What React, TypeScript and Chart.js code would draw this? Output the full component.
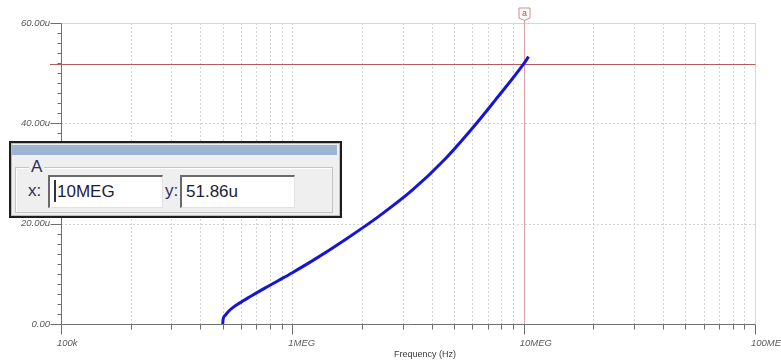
import React, { useEffect, useRef } from 'react';
import { Chart, registerables } from 'chart.js';
Chart.register(...registerables);

// ---- data ----
const freqHz = [500e3, 502.4e3, 512.8e3, 528.4e3, 551e3, 591e3, 653e3, 757e3, 879e3, 1.0e6, 1.224e6, 1.704e6, 2.372e6, 3.299e6, 4.598e6, 6.194e6, 7.551e6, 10e6, 10.5e6];
const currentU = [0, 1.0, 1.73, 2.45, 3.2, 4.16, 5.38, 7.1, 8.77, 10.23, 12.63, 16.91, 21.51, 26.67, 33.0, 39.77, 44.67, 51.86, 53.3];
const xMajorTicks = [1e5, 1e6, 1e7, 1e8];
const xTickLabels = ['100k', '1MEG', '10MEG', '100MEG'];
const xMinorMultipliers = [2, 3, 4, 5, 6, 7, 8, 9];
const yMajorTicks = [0, 20, 40, 60];
const yTickLabels = ['0.00', '20.00u', '40.00u', '60.00u'];
const yMinorStep = 2;
const cursorX = 10e6;
const cursorY = 51.86;
const cursorName = 'A';
const cursorXText = '10MEG';
const cursorYText = '51.86u';
const markerLabel = 'a';
const xTitle = 'Frequency (Hz)';

const FONT = '"Liberation Sans", Arial, sans-serif';

const decorPlugin = {
  id: 'decor',
  beforeDatasetsDraw(chart: any) {
    const { ctx, chartArea: a, scales } = chart;
    const xs = scales.x, ys = scales.y;
    const px = (v: number) => Math.round(xs.getPixelForValue(v)) + 0.5;
    const py = (v: number) => Math.round(ys.getPixelForValue(v)) + 0.5;
    ctx.save();
    ctx.lineWidth = 1;
    // vertical dotted grid
    ctx.strokeStyle = '#d2d2d2';
    ctx.setLineDash([2, 2]);
    const xGrid: number[] = [];
    for (let d = 0; d < xMajorTicks.length - 1; d++) {
      if (d > 0) xGrid.push(xMajorTicks[d]);
      xMinorMultipliers.forEach((m) => xGrid.push(xMajorTicks[d] * m));
    }
    xGrid.forEach((v) => {
      const x = px(v);
      ctx.beginPath(); ctx.moveTo(x, a.top); ctx.lineTo(x, a.bottom); ctx.stroke();
    });
    // horizontal dotted grid
    yMajorTicks.slice(1, -1).forEach((v) => {
      const y = py(v);
      ctx.beginPath(); ctx.moveTo(a.left, y); ctx.lineTo(a.right, y); ctx.stroke();
    });
    ctx.setLineDash([]);
    // top & right border
    ctx.strokeStyle = '#d6d6d6';
    ctx.beginPath();
    ctx.moveTo(a.left, py(yMajorTicks[yMajorTicks.length - 1]));
    ctx.lineTo(px(xMajorTicks[xMajorTicks.length - 1]), py(yMajorTicks[yMajorTicks.length - 1]));
    ctx.lineTo(px(xMajorTicks[xMajorTicks.length - 1]), a.bottom);
    ctx.stroke();
    // cursor lines
    const cx = px(cursorX), cy = py(cursorY);
    ctx.strokeStyle = '#d9a3a3';
    ctx.beginPath(); ctx.moveTo(cx, a.top - 3); ctx.lineTo(cx, a.bottom); ctx.stroke();
    ctx.strokeStyle = '#7fdcdc';
    ctx.beginPath(); ctx.moveTo(cx, a.bottom); ctx.lineTo(cx, a.bottom + 9); ctx.stroke();
    ctx.strokeStyle = '#b65c5c';
    ctx.beginPath(); ctx.moveTo(a.left - 11, cy); ctx.lineTo(px(xMajorTicks[xMajorTicks.length - 1]), cy); ctx.stroke();
    // axes
    ctx.strokeStyle = '#6f6f6f';
    const ax = px(xMajorTicks[0]);
    const ay = py(yMajorTicks[0]);
    ctx.beginPath();
    ctx.moveTo(ax, py(yMajorTicks[yMajorTicks.length - 1]));
    ctx.lineTo(ax, ay);
    ctx.lineTo(px(xMajorTicks[xMajorTicks.length - 1]), ay);
    ctx.stroke();
    // x ticks
    ctx.beginPath();
    xMajorTicks.forEach((v) => { const x = px(v); ctx.moveTo(x, ay); ctx.lineTo(x, ay + 10); });
    xGrid.forEach((v) => { if (xMajorTicks.indexOf(v) < 0) { const x = px(v); ctx.moveTo(x, ay); ctx.lineTo(x, ay + 5); } });
    ctx.stroke();
    // y ticks
    ctx.beginPath();
    const yMax = yMajorTicks[yMajorTicks.length - 1];
    for (let v = yMajorTicks[0]; v <= yMax; v += yMinorStep) {
      const y = py(v);
      const major = yMajorTicks.indexOf(v) >= 0;
      ctx.moveTo(ax - (major ? 11 : 4), y); ctx.lineTo(ax, y);
    }
    ctx.stroke();
    ctx.restore();
  },
  afterDraw(chart: any) {
    const { ctx, chartArea: a, scales } = chart;
    const cx = Math.round(scales.x.getPixelForValue(cursorX)) + 0.5;
    ctx.save();
    // marker tag
    const top = a.top - 15, bot = a.top - 5;
    ctx.beginPath();
    ctx.moveTo(cx - 5.5, top);
    ctx.lineTo(cx + 5.5, top);
    ctx.lineTo(cx + 5.5, bot);
    ctx.lineTo(cx, bot + 2.5);
    ctx.lineTo(cx - 5.5, bot);
    ctx.closePath();
    ctx.fillStyle = '#ffffff';
    ctx.fill();
    ctx.strokeStyle = '#d48a8a';
    ctx.lineWidth = 1;
    ctx.stroke();
    ctx.fillStyle = '#c04848';
    ctx.font = `9px ${FONT}`;
    ctx.textAlign = 'center';
    ctx.textBaseline = 'middle';
    ctx.fillText(markerLabel, cx, top + 5.5);
    // axis title
    ctx.fillStyle = '#3a3a3a';
    ctx.font = `9px ${FONT}`;
    ctx.fillText(xTitle, (a.left + a.right) / 2 + 17, a.bottom + 31);
    ctx.restore();
  },
};

const inputStyle: React.CSSProperties = {
  position: 'absolute',
  top: 175,
  height: 33,
  background: '#ffffff',
  borderTop: '2px solid #6a6a6a',
  borderLeft: '2px solid #6a6a6a',
  borderBottom: '1px solid #e2e2e2',
  borderRight: '1px solid #e2e2e2',
  boxSizing: 'border-box',
  font: `17px ${FONT}`,
  color: '#1c1c3a',
  lineHeight: '30px',
  paddingLeft: 4,
  whiteSpace: 'nowrap',
};

const labelStyle: React.CSSProperties = {
  position: 'absolute',
  font: `17px ${FONT}`,
  color: '#2e2e5e',
  lineHeight: '20px',
};

export default function App() {
  const ref = useRef<HTMLCanvasElement | null>(null);
  useEffect(() => {
    document.body.style.margin = '0';
    const canvas = ref.current;
    if (!canvas) return;
    const tickFont = { family: FONT, size: 9.5, style: 'italic' as const };
    const chart = new Chart(canvas, {
      type: 'line',
      data: {
        datasets: [
          {
            data: freqHz.map((f, i) => ({ x: f, y: currentU[i] })),
            borderColor: '#1616d2',
            borderWidth: 3,
            pointRadius: 0,
            cubicInterpolationMode: 'monotone',
            fill: false,
          },
        ],
      },
      options: {
        animation: false,
        responsive: false,
        devicePixelRatio: 1,
        layout: { padding: { top: 23, right: 26, left: 0, bottom: 0 } },
        plugins: { legend: { display: false }, tooltip: { enabled: false }, title: { display: false } },
        scales: {
          x: {
            type: 'logarithmic',
            min: xMajorTicks[0],
            max: xMajorTicks[xMajorTicks.length - 1],
            afterBuildTicks: (s: any) => { s.ticks = xMajorTicks.map((v) => ({ value: v })); },
            afterFit: (s: any) => { s.height = 40; s.paddingLeft = 0; s.paddingRight = 0; },
            ticks: {
              autoSkip: false,
              maxRotation: 0,
              align: 'start',
              labelOffset: -4,
              padding: 4,
              color: '#5a5a5a',
              font: tickFont,
              callback: (_v: any, i: number) => xTickLabels[i],
            },
            grid: { display: false, drawTicks: true, tickLength: 10 },
            border: { display: false },
          },
          y: {
            type: 'linear',
            min: yMajorTicks[0],
            max: yMajorTicks[yMajorTicks.length - 1],
            afterBuildTicks: (s: any) => { s.ticks = yMajorTicks.map((v) => ({ value: v })); },
            afterFit: (s: any) => { s.width = 61; s.paddingTop = 0; s.paddingBottom = 0; },
            ticks: {
              padding: 3,
              color: '#5a5a5a',
              font: tickFont,
              callback: (_v: any, i: number) => yTickLabels[i],
            },
            grid: { display: false, drawTicks: true, tickLength: 8 },
            border: { display: false },
          },
        },
      } as any,
      plugins: [decorPlugin],
    });
    return () => chart.destroy();
  }, []);

  return (
    <div style={{ position: 'relative', width: 781, height: 364, background: '#ffffff' }}>
      <canvas ref={ref} width={781} height={364} style={{ position: 'absolute', left: 0, top: 0 }} />
      {/* cursor readout window */}
      <div
        style={{
          position: 'absolute', left: 9, top: 141, width: 333, height: 77,
          boxSizing: 'border-box', border: '2px solid #1e1e1e', background: '#efefef',
          boxShadow: 'inset 0 0 0 1px #bdbdbd',
        }}
      />
      <div style={{ position: 'absolute', left: 12, top: 145, width: 325, height: 10, background: '#9db5d2' }} />
      <div
        style={{
          position: 'absolute', left: 15, top: 167, width: 318, height: 46, boxSizing: 'border-box',
          border: '1px solid #c4c4c4', boxShadow: 'inset 1px 1px 0 #ffffff',
        }}
      />
      <div style={{ ...labelStyle, left: 29, top: 157, background: '#efefef', padding: '0 2px' }}>{cursorName}</div>
      <div style={{ ...labelStyle, left: 28, top: 181 }}>x:</div>
      <div style={{ ...inputStyle, left: 48, width: 115 }}>
        <span style={{ display: 'inline-block', width: 2, height: 22, background: '#333', verticalAlign: 'middle', marginRight: 1, marginTop: -4 }} />
        {cursorXText}
      </div>
      <div style={{ ...labelStyle, left: 165, top: 181 }}>y:</div>
      <div style={{ ...inputStyle, left: 180, width: 115 }}>{cursorYText}</div>
    </div>
  );
}
